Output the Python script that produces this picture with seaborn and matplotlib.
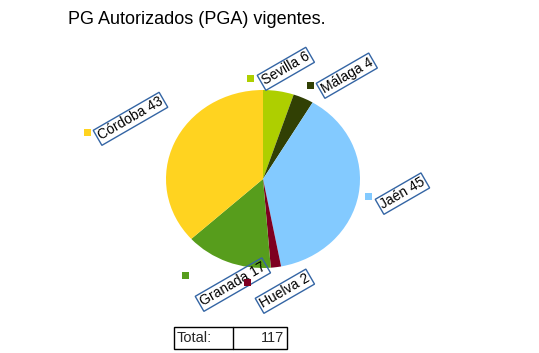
import matplotlib
matplotlib.use("Agg")
import matplotlib.pyplot as plt
import seaborn as sns
from matplotlib.patches import Rectangle

sns.set_style("white")
plt.rcParams['font.family'] = ['Liberation Sans', 'DejaVu Sans']

# Data
categories = ["Sevilla", "Málaga", "Jaén", "Huelva", "Granada", "Córdoba"]
values = [6, 4, 45, 2, 17, 43]
colors = ["#aecf00", "#314004", "#83caff", "#7e0021", "#579d1c", "#ffd320"]
title = "PG Autorizados (PGA) vigentes."
total_label = "Total:"

# Layout (pixel positions of legend markers and label anchors)
marker_pos = [(250, 78), (310, 85), (368, 196), (247, 282), (185, 275), (87, 132)]
label_pos = [(263, 82), (322, 90), (381, 206), (261, 305), (201, 303), (99, 137)]

W, H = 539, 353
fig = plt.figure(figsize=(W / 100, H / 100), dpi=100)
fig.patch.set_facecolor("white")

# Pie axes (slightly elliptical as in the reference)
pl, pt, pr, pb = 166, 90, 360, 268
pax = fig.add_axes([pl / W, 1 - pb / H, (pr - pl) / W, (pb - pt) / H])
pax.pie(values, colors=colors, startangle=90, counterclock=False,
        wedgeprops=dict(linewidth=0))
pax.set_aspect("auto")
pax.set_xlim(-1, 1)
pax.set_ylim(-1, 1)
pax.axis("off")

# Overlay axes in pixel coords
ax = fig.add_axes([0, 0, 1, 1], facecolor="none")
ax.set_xlim(0, W)
ax.set_ylim(H, 0)
ax.axis("off")

ax.text(68, 20, title, fontsize=13, ha="left", va="center", color="black")

for cat, val, col, lp in zip(categories, values, colors, label_pos):
    ax.text(lp[0], lp[1], f"{cat} {val}", fontsize=10, rotation=30,
            rotation_mode="anchor", ha="left", va="center", color="black",
            bbox=dict(boxstyle="square,pad=0.12", facecolor="none",
                      edgecolor="#3465a4", linewidth=1), zorder=2)
for col, mp in zip(colors, marker_pos):
    ax.add_patch(Rectangle((mp[0] - 3.5, mp[1] - 3.5), 7, 7, facecolor=col,
                           edgecolor="none", zorder=3))

# Total table
ax.add_patch(Rectangle((174, 327), 113, 22, facecolor="white", edgecolor="black",
                       linewidth=1))
ax.plot([233, 233], [327, 349], color="black", linewidth=1)
ax.text(177, 338.5, total_label, fontsize=10.5, ha="left", va="center")
ax.text(284, 338.5, str(sum(values)), fontsize=10.5, ha="right", va="center")

fig.savefig("out.png", dpi=100, facecolor="white")
